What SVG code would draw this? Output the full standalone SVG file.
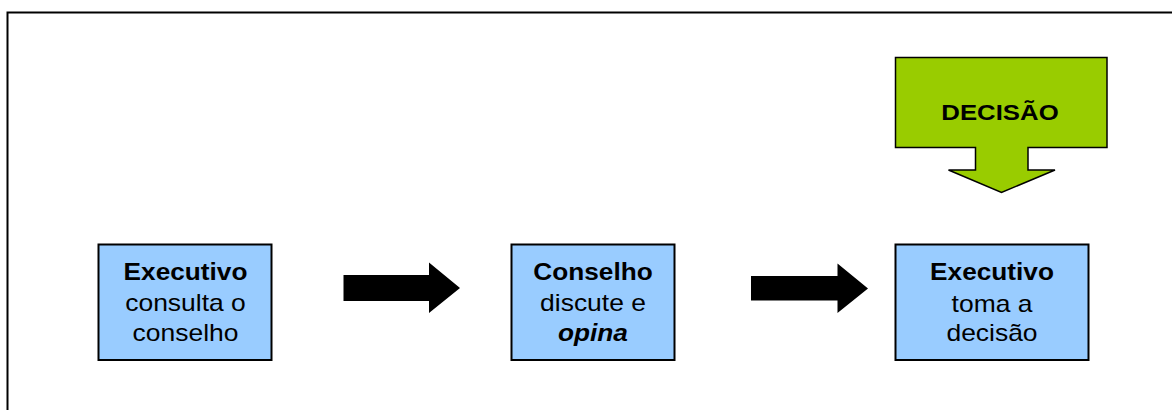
<svg xmlns="http://www.w3.org/2000/svg" width="1172" height="410" viewBox="0 0 1172 410">
<style>
.box{fill:#99ccff;stroke:#000;stroke-width:2}
.t{font-family:"Liberation Sans",Arial,sans-serif;font-size:23px;fill:#000;text-anchor:middle}
.b{font-weight:bold}
.bi{font-weight:bold;font-style:italic}
.arr{fill:#000}
</style>
<rect x="0" y="0" width="1172" height="410" fill="#fff"/>
<rect x="7.5" y="12.5" width="1180" height="420" fill="none" stroke="#000" stroke-width="2"/>
<g id="decisao">
<path d="M895.5 57.5 H1107 V147.5 H1028 V170 H1055 L1001.5 192.5 L948.5 170 H975.5 V147.5 H895.5 Z" fill="#99cc00" stroke="#000" stroke-width="1.5"/>
<text class="t b" transform="translate(1000,119.5) scale(1.12,1)">DECISÃO</text>
</g>
<g id="n1">
<rect class="box" x="98.5" y="244.5" width="173" height="115.5"/>
<text class="t b" transform="translate(185.5,279.5) scale(1.14,1)">Executivo</text>
<text class="t" transform="translate(185.5,311) scale(1.15,1)">consulta o</text>
<text class="t" transform="translate(185.5,341) scale(1.15,1)">conselho</text>
</g>
<g id="n2">
<rect class="box" x="511.5" y="244.5" width="163" height="115.5"/>
<text class="t b" transform="translate(593,279.5) scale(1.14,1)">Conselho</text>
<text class="t" transform="translate(593,311) scale(1.15,1)">discute e</text>
<text class="t bi" transform="translate(593,341) scale(1.14,1)">opina</text>
</g>
<g id="n3">
<rect class="box" x="895.5" y="244.5" width="193" height="115.5"/>
<text class="t b" transform="translate(992,280) scale(1.14,1)">Executivo</text>
<text class="t" transform="translate(992,311.5) scale(1.15,1)">toma a</text>
<text class="t" transform="translate(992,341) scale(1.15,1)">decisão</text>
</g>
<g id="connectors">
<path class="arr" d="M343.5 275 H429 V262.5 L460 288 L429 313 V301 H343.5 Z"/>
<path class="arr" d="M751 276 H837.5 V263.5 L868 288.5 L837.5 313 V300.5 H751 Z"/>
</g>
</svg>
